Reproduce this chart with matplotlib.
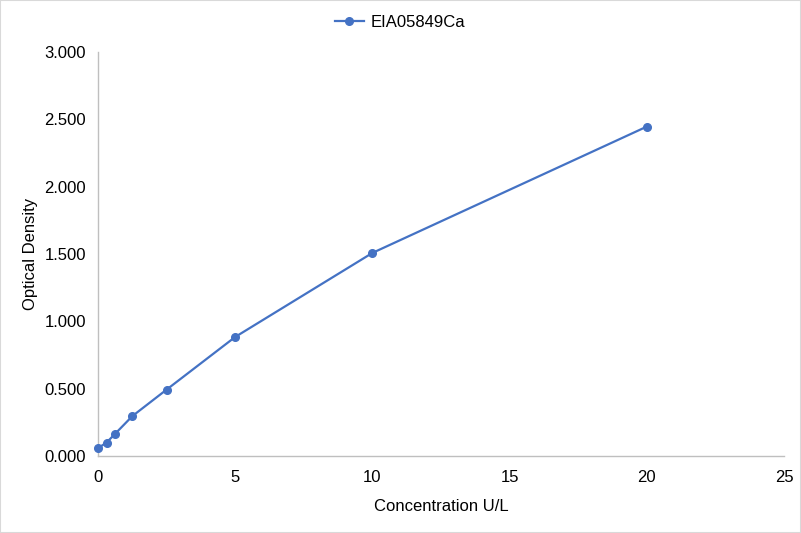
import matplotlib
matplotlib.use("Agg")
import matplotlib.pyplot as plt

plt.rcParams['font.family'] = ['Liberation Sans', 'DejaVu Sans']

conc = [0, 0.3125, 0.625, 1.25, 2.5, 5, 10, 20]
od = [0.058, 0.100, 0.165, 0.296, 0.493, 0.884, 1.508, 2.446]
series_name = "EIA05849Ca"
xticks = [0, 5, 10, 15, 20, 25]
yticks = [0.0, 0.5, 1.0, 1.5, 2.0, 2.5, 3.0]

fig = plt.figure(figsize=(8.01, 5.33), dpi=100)
ax = fig.add_axes([98/801, 77/533, 686/801, 404/533])
color = '#4472C4'
ax.plot(conc, od, color=color, lw=1.6, marker='o', ms=5.5, label=series_name, clip_on=False, zorder=3)
ax.set_xlim(0, 25)
ax.set_ylim(0, 3.0)
ax.set_xticks(xticks)
ax.set_yticks(yticks)
ax.set_yticklabels([f"{v:.3f}" for v in yticks])
ax.tick_params(axis='both', length=0, labelsize=12, colors='#000000')
ax.tick_params(axis='x', pad=10)
ax.tick_params(axis='y', pad=8.5)
for s in ['top', 'right']:
    ax.spines[s].set_visible(False)
for s in ['left', 'bottom']:
    ax.spines[s].set_color('#BFBFBF')
    ax.spines[s].set_linewidth(1)
ax.set_xlabel("Concentration U/L", fontsize=12, labelpad=10.5)
ax.set_ylabel("Optical Density", fontsize=12, labelpad=5)
fig.legend(loc='upper center', bbox_to_anchor=(0.5, 1.0), frameon=False, fontsize=12,
           handlelength=1.7, handletextpad=0.45)
fig.patches.append(plt.Rectangle((0, 0), 1, 1, transform=fig.transFigure, fill=False,
                                 edgecolor='#D9D9D9', lw=1.5))
fig.savefig("out.png", dpi=100)
